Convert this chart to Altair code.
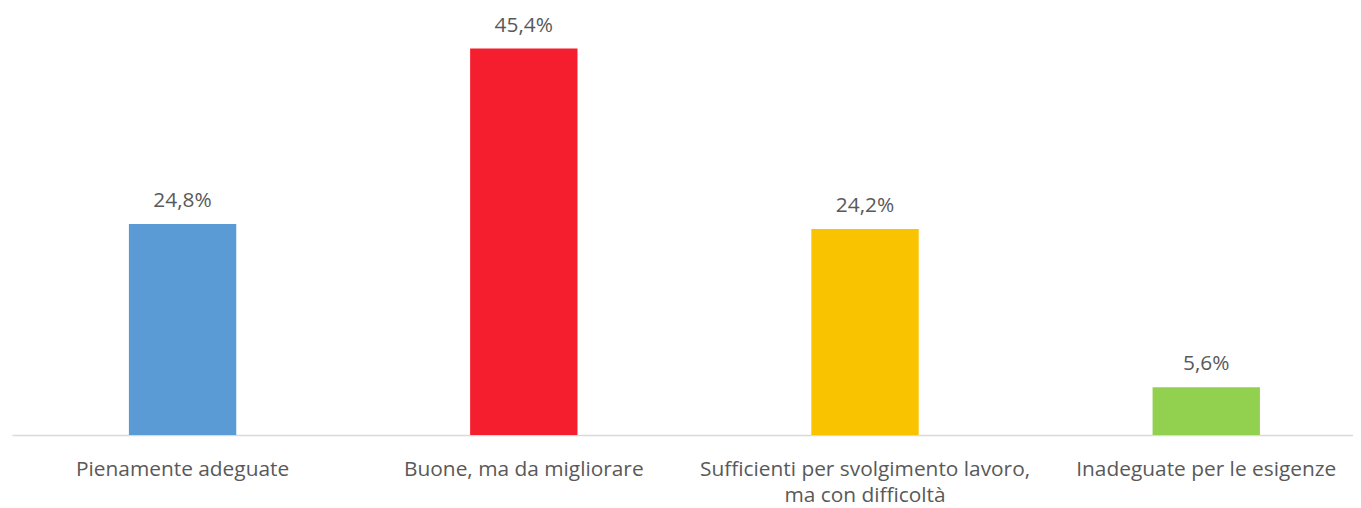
import altair as alt
import pandas as pd

categories = ["Pienamente adeguate", "Buone, ma da migliorare",
              "Sufficienti per svolgimento lavoro, ma con difficoltà",
              "Inadeguate per le esigenze"]
values = [24.8, 45.4, 24.2, 5.6]
value_labels = ["24,8%", "45,4%", "24,2%", "5,6%"]
colors = ["#5B9BD5", "#F41E2E", "#F9C300", "#92D050"]
wrapped = {"Sufficienti per svolgimento lavoro, ma con difficoltà":
           ["Sufficienti per svolgimento lavoro,", "ma con difficoltà"]}

df = pd.DataFrame({"cat": categories, "val": values, "lab": value_labels, "col": colors})

label_expr = "datum.label"
for k, v in wrapped.items():
    label_expr = f"datum.label == {k!r} ? {v!r} : " + label_expr

FONT = "Open Sans"
TXT = "#595959"

x = alt.X("cat:N", sort=categories, title=None,
          scale=alt.Scale(range=[0, 1373], paddingInner=0, paddingOuter=0),
          axis=alt.Axis(labelAngle=0, ticks=False, domainColor="#D9D9D9", domainWidth=1.5,
                        labelFont=FONT, labelFontSize=21, labelColor=TXT,
                        labelPadding=24, labelLineHeight=26, labelExpr=label_expr,
                        labelLimit=0))
y = alt.Y("val:Q", scale=alt.Scale(domain=[0, 50], nice=False), axis=None)

bars = alt.Chart(df).mark_bar(size=108).encode(
    x=x, y=y, color=alt.Color("col:N", scale=None))
texts = alt.Chart(df).mark_text(baseline="alphabetic", dy=-17, font=FONT,
                                fontSize=21, color=TXT).encode(
    x=alt.X("cat:N", sort=categories), y="val:Q", text="lab:N")

chart = (bars + texts).properties(
    width=1349, height=428,
    background="white",
    autosize=alt.AutoSizeParams(type="none"),
    padding={"left": 4, "top": 0, "right": 0, "bottom": 72},
).configure_view(stroke=None)

chart.save("out.html", embed_options={"renderer": "svg", "actions": False})
